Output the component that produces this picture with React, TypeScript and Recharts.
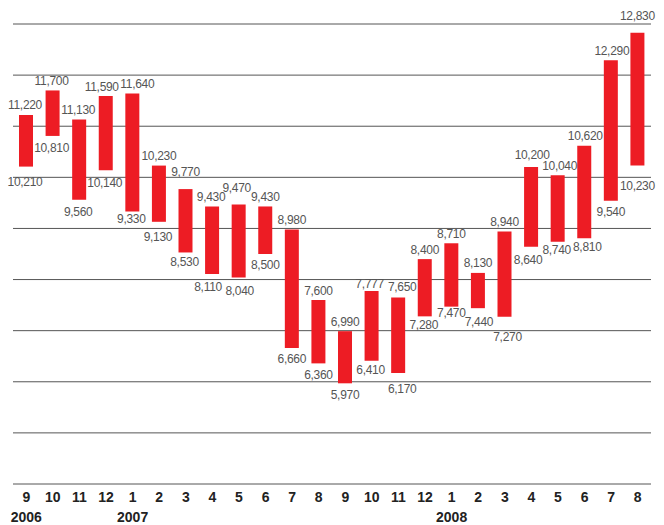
import { BarChart, Bar, XAxis, YAxis, CartesianGrid, LabelList } from 'recharts';

const months = ['9', '10', '11', '12', '1', '2', '3', '4', '5', '6', '7', '8', '9', '10', '11', '12', '1', '2', '3', '4', '5', '6', '7', '8'];
const years = ['2006', '', '', '', '2007', '', '', '', '', '', '', '', '', '', '', '', '2008', '', '', '', '', '', '', ''];
const highs = [11220, 11700, 11130, 11590, 11640, 10230, 9770, 9430, 9470, 9430, 8980, 7600, 6990, 7777, 7650, 8400, 8710, 8130, 8940, 10200, 10040, 10620, 12290, 12830];
const lows = [10210, 10810, 9560, 10140, 9330, 9130, 8530, 8110, 8040, 8500, 6660, 6360, 5970, 6410, 6170, 7280, 7470, 7440, 7270, 8640, 8740, 8810, 9540, 10230];
const yTicks = [4000, 5000, 6000, 7000, 8000, 9000, 10000, 11000, 12000, 13000];

// small label nudges [dx, dy] so neighbouring labels don't collide, as in the original
const highNudge: Record<number, [number, number]> = {
  0: [-1, 0], 1: [-1, 0], 2: [-1, 0], 3: [-4, 0], 4: [5, 0], 6: [0, -8], 7: [-1, 0],
  8: [-2, -7], 13: [-2, 3], 14: [4, -1], 19: [1, -3], 20: [2, 0], 21: [1, 0], 22: [1, 0], 23: [0, -7],
};
const lowNudge: Record<number, [number, number]> = {
  0: [-1, 4], 1: [-1, 1], 2: [-1, 1], 3: [-1, 2], 4: [-1, -4], 5: [-1, 4], 6: [-1, -2], 7: [-4, 2],
  8: [1, 2], 13: [-1, -2], 14: [4, 5], 15: [-1, -3], 16: [0, -5], 17: [1, 3], 18: [3, 9],
  19: [-3, 2], 20: [-1, -3], 21: [3, -2], 23: [0, 9],
};

const data = months.map((m, i) => ({
  key: `${i}`,
  month: m,
  year: years[i],
  high: highs[i],
  low: lows[i],
  range: [lows[i], highs[i]],
}));

const FONT = '"Liberation Sans", Arial, sans-serif';
const fmt = (v: number) => v.toLocaleString('en-US');

const MonthTick = (props: any) => {
  const { x, y, payload } = props;
  const d = data[payload.index];
  return (
    <g>
      <text x={x} y={y + 18} textAnchor="middle" fontSize={14} fontWeight="bold" fill="#222" fontFamily={FONT}>
        {d.month}
      </text>
      {d.year && (
        <text x={x} y={y + 38} textAnchor="middle" fontSize={14} fontWeight="bold" fill="#222" fontFamily={FONT}>
          {d.year}
        </text>
      )}
    </g>
  );
};

const HighLabel = (props: any) => {
  const { x, y, width, index } = props;
  const [dx, dy] = highNudge[index] || [0, 0];
  return (
    <text x={x + width / 2 + dx} y={y - 5.5 + dy} textAnchor="middle" fontSize={12} letterSpacing={-0.3} fill="#555" fontFamily={FONT}>
      {fmt(highs[index])}
    </text>
  );
};

const LowLabel = (props: any) => {
  const { x, y, width, height, index } = props;
  const [dx, dy] = lowNudge[index] || [0, 0];
  return (
    <text x={x + width / 2 + dx} y={y + height + 15.3 + dy} textAnchor="middle" fontSize={12} letterSpacing={-0.3} fill="#555" fontFamily={FONT}>
      {fmt(lows[index])}
    </text>
  );
};

export default function App() {
  return (
    <div style={{ position: 'absolute', left: 0, top: 0 }}>
      <BarChart width={664} height={525} data={data} margin={{ top: 24, right: 13, left: 13, bottom: 0 }}>
        <CartesianGrid vertical={false} stroke="#555" strokeWidth={1} />
        <XAxis
          dataKey="key"
          height={41}
          axisLine={false}
          tickLine={false}
          tickSize={0}
          tickMargin={0}
          interval={0}
          tick={<MonthTick />}
        />
        <YAxis hide domain={[4000, 13000]} ticks={yTicks} />
        <Bar dataKey="range" fill="#ED1C24" barSize={14} isAnimationActive={false}>
          <LabelList dataKey="high" content={<HighLabel />} />
          <LabelList dataKey="low" content={<LowLabel />} />
        </Bar>
      </BarChart>
    </div>
  );
}
